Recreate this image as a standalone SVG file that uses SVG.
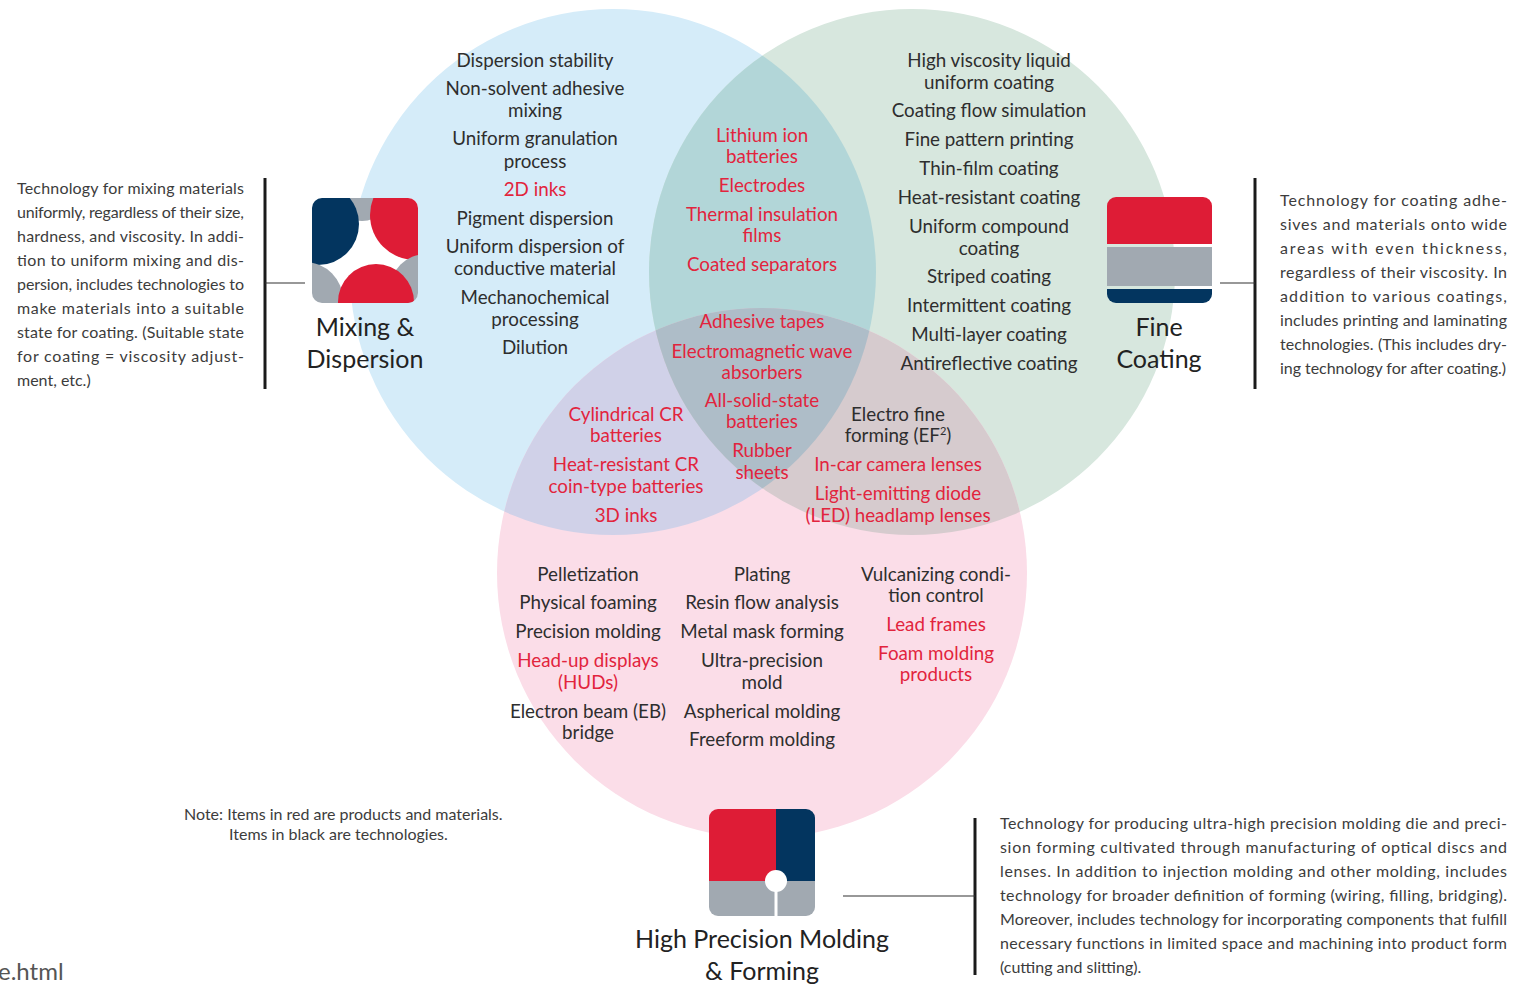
<svg xmlns="http://www.w3.org/2000/svg" width="1528" height="984" viewBox="0 0 1528 984">
<style>
text{font-family:Lato,"Noto Sans","Liberation Sans",sans-serif}
.it{font-size:18.8px;fill:#2e2e2e;text-anchor:middle}
.r{fill:#e2243d}
.desc{font-size:16px;fill:#3c3c3c}
.ttl{font-size:25px;fill:#222;text-anchor:middle}
.bar{stroke:#1a1a1a;stroke-width:3;fill:none}
.ln{stroke:#333;stroke-width:1.2;fill:none}
</style>
<defs>
<clipPath id="cB"><circle cx="613" cy="272" r="263"/></clipPath>
<clipPath id="cG"><circle cx="912" cy="272" r="263"/></clipPath>
<clipPath id="cM"><rect x="312" y="198" width="106" height="105" rx="10"/></clipPath>
<clipPath id="cF"><rect x="1107" y="197" width="105" height="106" rx="9"/></clipPath>
<clipPath id="cH"><rect x="709" y="809" width="106" height="107" rx="9"/></clipPath>
</defs>
<rect width="1528" height="984" fill="#ffffff"/>

<g id="venn">
<circle cx="613" cy="272" r="263" fill="#d5ecf9"/>
<circle cx="912" cy="272" r="263" fill="#d7e7de"/>
<circle cx="762" cy="573" r="265" fill="#fbdde8"/>
<circle cx="912" cy="272" r="263" fill="#b2d6d8" clip-path="url(#cB)"/>
<circle cx="762" cy="573" r="265" fill="#d0d1e8" clip-path="url(#cB)"/>
<circle cx="762" cy="573" r="265" fill="#d6cbce" clip-path="url(#cG)"/>
<g clip-path="url(#cB)"><circle cx="762" cy="573" r="265" fill="#aebdc8" clip-path="url(#cG)"/></g>
</g>

<g id="connectors">
<line class="bar" x1="265" y1="178" x2="265" y2="389"/>
<line class="ln" x1="265" y1="283" x2="305" y2="283"/>
<line class="bar" x1="1255" y1="178" x2="1255" y2="389"/>
<line class="ln" x1="1220" y1="283" x2="1255" y2="283"/>
<line class="bar" x1="975" y1="818" x2="975" y2="975"/>
<line class="ln" x1="843" y1="896" x2="975" y2="896"/>
</g>

<g id="mixing-dispersion">
<g clip-path="url(#cM)">
<rect x="312" y="198" width="106" height="105" fill="#ffffff"/>
<circle cx="362" cy="192" r="29" fill="#a1a9b1"/>
<circle cx="318" cy="224" r="41" fill="#03355f"/>
<circle cx="415" cy="215" r="45" fill="#de1c36"/>
<circle cx="426" cy="290" r="36" fill="#a1a9b1"/>
<circle cx="305" cy="300" r="38" fill="#a1a9b1"/>
<circle cx="376" cy="302" r="38" fill="#de1c36"/>
</g>
<text class="ttl" x="365" y="336">Mixing &amp;</text>
<text class="ttl" x="365" y="368">Dispersion</text>
</g>

<g id="fine-coating">
<g clip-path="url(#cF)">
<rect x="1107" y="197" width="105" height="47" fill="#de1c36"/>
<rect x="1107" y="247" width="105" height="39" fill="#a1a9b1"/>
<rect x="1107" y="289" width="105" height="14" fill="#03355f"/>
</g>
<text class="ttl" x="1159" y="336">Fine</text>
<text class="ttl" x="1159" y="368">Coating</text>
</g>

<g id="molding-forming">
<g clip-path="url(#cH)">
<rect x="709" y="809" width="67" height="72" fill="#de1c36"/>
<rect x="776" y="809" width="39" height="72" fill="#03355f"/>
<rect x="709" y="881" width="106" height="35" fill="#a1a9b1"/>
<rect x="774.5" y="881" width="3" height="35" fill="#ffffff"/>
<circle cx="776" cy="881" r="11" fill="#ffffff"/>
</g>
<text class="ttl" x="762" y="948">High Precision Molding</text>
<text class="ttl" x="762" y="980">&amp; Forming</text>
</g>

<g id="mixing-items">
<text class="it" x="535" y="67">Dispersion stability</text>
<text class="it" x="535" y="95">Non-solvent adhesive</text>
<text class="it" x="535" y="117">mixing</text>
<text class="it" x="535" y="145">Uniform granulation</text>
<text class="it" x="535" y="168">process</text>
<text class="it r" x="535" y="196">2D inks</text>
<text class="it" x="535" y="225">Pigment dispersion</text>
<text class="it" x="535" y="253">Uniform dispersion of</text>
<text class="it" x="535" y="275">conductive material</text>
<text class="it" x="535" y="304">Mechanochemical</text>
<text class="it" x="535" y="326">processing</text>
<text class="it" x="535" y="354">Dilution</text>
</g>

<g id="coating-items">
<text class="it" x="989" y="67">High viscosity liquid</text>
<text class="it" x="989" y="89">uniform coating</text>
<text class="it" x="989" y="117">Coating flow simulation</text>
<text class="it" x="989" y="146">Fine pattern printing</text>
<text class="it" x="989" y="175">Thin-film coating</text>
<text class="it" x="989" y="204">Heat-resistant coating</text>
<text class="it" x="989" y="233">Uniform compound</text>
<text class="it" x="989" y="255">coating</text>
<text class="it" x="989" y="283">Striped coating</text>
<text class="it" x="989" y="312">Intermittent coating</text>
<text class="it" x="989" y="341">Multi-layer coating</text>
<text class="it" x="989" y="370">Antireflective coating</text>
</g>

<g id="mixing-coating-items">
<text class="it r" x="762" y="142">Lithium ion</text>
<text class="it r" x="762" y="163">batteries</text>
<text class="it r" x="762" y="192">Electrodes</text>
<text class="it r" x="762" y="221">Thermal insulation</text>
<text class="it r" x="762" y="242">films</text>
<text class="it r" x="762" y="271">Coated separators</text>
</g>

<g id="all-three-items">
<text class="it r" x="762" y="328">Adhesive tapes</text>
<text class="it r" x="762" y="358">Electromagnetic wave</text>
<text class="it r" x="762" y="379">absorbers</text>
<text class="it r" x="762" y="407">All-solid-state</text>
<text class="it r" x="762" y="428">batteries</text>
<text class="it r" x="762" y="457">Rubber</text>
<text class="it r" x="762" y="479">sheets</text>
</g>

<g id="mixing-molding-items">
<text class="it r" x="626" y="421">Cylindrical CR</text>
<text class="it r" x="626" y="442">batteries</text>
<text class="it r" x="626" y="471">Heat-resistant CR</text>
<text class="it r" x="626" y="493">coin-type batteries</text>
<text class="it r" x="626" y="522">3D inks</text>
</g>

<g id="coating-molding-items">
<text class="it" x="898" y="421">Electro fine</text>
<text class="it" x="898" y="442">forming (EF<tspan font-size="11" dy="-7">2</tspan><tspan dy="7">)</tspan></text>
<text class="it r" x="898" y="471">In-car camera lenses</text>
<text class="it r" x="898" y="500">Light-emitting diode</text>
<text class="it r" x="898" y="522">(LED) headlamp lenses</text>
</g>

<g id="molding-items">
<text class="it" x="588" y="581">Pelletization</text>
<text class="it" x="588" y="609">Physical foaming</text>
<text class="it" x="588" y="638">Precision molding</text>
<text class="it r" x="588" y="667">Head-up displays</text>
<text class="it r" x="588" y="689">(HUDs)</text>
<text class="it" x="588" y="718">Electron beam (EB)</text>
<text class="it" x="588" y="739">bridge</text>
<text class="it" x="762" y="581">Plating</text>
<text class="it" x="762" y="609">Resin flow analysis</text>
<text class="it" x="762" y="638">Metal mask forming</text>
<text class="it" x="762" y="667">Ultra-precision</text>
<text class="it" x="762" y="689">mold</text>
<text class="it" x="762" y="718">Aspherical molding</text>
<text class="it" x="762" y="746">Freeform molding</text>
<text class="it" x="936" y="581">Vulcanizing condi-</text>
<text class="it" x="936" y="602">tion control</text>
<text class="it r" x="936" y="631">Lead frames</text>
<text class="it r" x="936" y="660">Foam molding</text>
<text class="it r" x="936" y="681">products</text>
</g>

<g id="mixing-description" class="desc">
<text x="17" y="194" textLength="227" lengthAdjust="spacing">Technology for mixing materials</text>
<text x="17" y="218" textLength="227" lengthAdjust="spacing">uniformly, regardless of their size,</text>
<text x="17" y="242" textLength="227" lengthAdjust="spacing">hardness, and viscosity. In addi-</text>
<text x="17" y="266" textLength="227" lengthAdjust="spacing">tion to uniform mixing and dis-</text>
<text x="17" y="290" textLength="227" lengthAdjust="spacing">persion, includes technologies to</text>
<text x="17" y="314" textLength="227" lengthAdjust="spacing">make materials into a suitable</text>
<text x="17" y="338" textLength="227" lengthAdjust="spacing">state for coating. (Suitable state</text>
<text x="17" y="362" textLength="227" lengthAdjust="spacing">for coating = viscosity adjust-</text>
<text x="17" y="386">ment, etc.)</text>
</g>

<g id="coating-description" class="desc">
<text x="1280" y="206" textLength="227" lengthAdjust="spacing">Technology for coating adhe-</text>
<text x="1280" y="230" textLength="227" lengthAdjust="spacing">sives and materials onto wide</text>
<text x="1280" y="254" textLength="227" lengthAdjust="spacing">areas with even thickness,</text>
<text x="1280" y="278" textLength="227" lengthAdjust="spacing">regardless of their viscosity. In</text>
<text x="1280" y="302" textLength="227" lengthAdjust="spacing">addition to various coatings,</text>
<text x="1280" y="326" textLength="227" lengthAdjust="spacing">includes printing and laminating</text>
<text x="1280" y="350" textLength="227" lengthAdjust="spacing">technologies. (This includes dry-</text>
<text x="1280" y="374" textLength="226" lengthAdjust="spacing">ing technology for after coating.)</text>
</g>

<g id="molding-description" class="desc">
<text x="1000" y="829" textLength="507" lengthAdjust="spacing">Technology for producing ultra-high precision molding die and preci-</text>
<text x="1000" y="853" textLength="507" lengthAdjust="spacing">sion forming cultivated through manufacturing of optical discs and</text>
<text x="1000" y="877" textLength="507" lengthAdjust="spacing">lenses. In addition to injection molding and other molding, includes</text>
<text x="1000" y="901" textLength="507" lengthAdjust="spacing">technology for broader definition of forming (wiring, filling, bridging).</text>
<text x="1000" y="925" textLength="507" lengthAdjust="spacing">Moreover, includes technology for incorporating components that fulfill</text>
<text x="1000" y="949" textLength="507" lengthAdjust="spacing">necessary functions in limited space and machining into product form</text>
<text x="1000" y="973">(cutting and slitting).</text>
</g>

<g id="note" class="desc">
<text x="184" y="820">Note: Items in red are products and materials.</text>
<text x="229" y="840">Items in black are technologies.</text>
</g>

<text x="-2" y="980" style="font-size:24px;fill:#555">e.html</text>
</svg>
